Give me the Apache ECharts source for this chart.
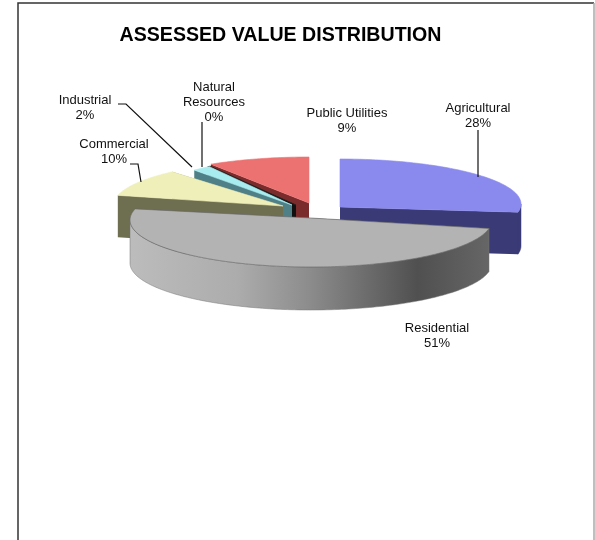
<!DOCTYPE html>
<html>
<head>
<meta charset="utf-8">
<style>html,body{margin:0;padding:0;background:#fff}#c{width:595px;height:540px}</style>
<script src="https://cdn.jsdelivr.net/npm/echarts@6/dist/echarts.min.js"></script>
</head>
<body>
<div id="c"></div>
<script>
// Data, clockwise from 12 o'clock
const categories = ['Agricultural', 'Residential', 'Commercial', 'Industrial', 'Natural Resources', 'Public Utilities'];
const values = [27.9, 50.9, 9.9, 2.0, 0.3, 9.0];
const labelLines = [['Agricultural'], ['Residential'], ['Commercial'], ['Industrial'], ['Natural', 'Resources'], ['Public Utilities']];

// Styles and layout
const topColors = ['#8a8aee', '#b3b3b3', '#efefb9', '#a9ecf0', '#2a2020', '#ec7272'];
const wallColors = ['#3a3a76', '#6f6f6f', '#6e6e50', '#4f8088', '#111111', '#7a2c2c'];
const pieces = [ // exploded position and projected radii of each slice
  {cx: 340, cy: 204, ay: 207, rx: 181, ry: 45, d: 42},
  {cx: 311, cy: 220, ay: 218, rx: 181, ry: 47, d: 43},
  {cx: 283, cy: 206, ay: 206, rx: 170, ry: 45, d: 42},
  {cx: 292, cy: 205, ay: 205, rx: 150, ry: 46, d: 42},
  {cx: 296, cy: 205, ay: 205, rx: 160, ry: 46, d: 42},
  {cx: 309, cy: 203, ay: 203, rx: 183, ry: 46, d: 42}
];
const labelPos = [[478, 108], [437, 328], [114, 144], [85, 100], [214, 87], [347, 113]];
const leaders = [
  [[478, 130], [478, 177]],
  null,
  [[130, 164], [138, 164], [141, 182]],
  [[118, 104], [126, 104], [192, 167]],
  [[202, 122], [202, 167]],
  null
];
const paintOrder = [5, 4, 3, 2, 0, 1];
const LABEL_FONT = '13px "Liberation Sans", Arial, sans-serif';

const total = values.reduce((a, b) => a + b, 0);
const startFrac = [];
values.reduce((acc, v, i) => { startFrac[i] = acc / total; return acc + v; }, 0);

function pt(g, t, dy) {
  return [g.cx + g.rx * Math.sin(t), g.cy - g.ry * Math.cos(t) + (dy || 0)];
}
function arc(g, a0, a1, dy) {
  const n = Math.max(2, Math.ceil(Math.abs(a1 - a0) / 0.02));
  const out = [];
  for (let k = 0; k <= n; k++) out.push(pt(g, a0 + (a1 - a0) * k / n, dy));
  return out;
}

function renderItem(params, api) {
  const i = api.value(0);
  const g = pieces[i];
  const a0 = startFrac[i] * 2 * Math.PI;
  const a1 = a0 + values[i] / total * 2 * Math.PI;
  const apex = [g.cx, g.ay];
  const low = [g.cx, g.ay + g.d];
  const kids = [];
  const wallFill = i === 1
    ? new echarts.graphic.LinearGradient(0, 0, 1, 0, [
        {offset: 0, color: '#bcbcbc'}, {offset: 0.3, color: '#acacac'},
        {offset: 0.5, color: '#8c8c8c'}, {offset: 0.8, color: '#505050'},
        {offset: 1, color: '#666666'}])
    : wallColors[i];

  // Two cut faces
  [a1, a0].forEach(a => {
    kids.push({type: 'polygon', shape: {points: [apex, pt(g, a), pt(g, a, g.d), low]},
      style: {fill: wallColors[i]}});
  });
  // Front-facing part of the outer wall
  const w0 = Math.max(a0, Math.PI / 2), w1 = Math.min(a1, Math.PI * 1.5);
  if (w1 > w0) {
    kids.push({type: 'polygon',
      shape: {points: arc(g, w0, w1, 0).concat(arc(g, w1, w0, g.d))},
      style: {fill: wallFill, stroke: i === 1 ? '#777' : wallColors[i], lineWidth: 0.5}});
  }
  // Top face
  kids.push({type: 'polygon', shape: {points: [apex].concat(arc(g, a0, a1, 0))},
    style: {fill: topColors[i], stroke: i === 1 ? '#666' : topColors[i], lineWidth: 0.6}});
  return {type: 'group', children: kids};
}

function renderLabel(params, api) {
  const i = api.value(0);
  const pct = Math.round(values[i] / total * 100) + '%';
  const lines = labelLines[i].concat([pct]);
  const kids = lines.map((t, k) => ({
    type: 'text',
    style: {text: t, x: labelPos[i][0], y: labelPos[i][1] + k * 15, align: 'center',
      verticalAlign: 'middle', font: LABEL_FONT, fill: '#111'}
  }));
  if (leaders[i]) kids.push({type: 'polyline', shape: {points: leaders[i]},
    style: {stroke: '#111', lineWidth: 1.2, fill: null}});
  return {type: 'group', children: kids};
}

const chart = echarts.init(document.getElementById('c'), null, {renderer: 'canvas'});
chart.setOption({
  animation: false,
  backgroundColor: '#fff',
  title: {
    text: 'ASSESSED VALUE DISTRIBUTION', left: 275.5, top: 21, textAlign: 'center',
    textStyle: {fontFamily: '"Liberation Sans", Arial, sans-serif', fontWeight: 'bold', fontSize: 19.6, color: '#000'}
  },
  graphic: [
    {type: 'polyline', shape: {points: [[18, 540], [18, 3], [594, 3]]}, style: {stroke: '#333', lineWidth: 1.5, fill: null}, z: 10},
    {type: 'line', shape: {x1: 594, y1: 3, x2: 594, y2: 540}, style: {stroke: '#aaa', lineWidth: 1.5}, z: 10}
  ],
  series: [
    {type: 'custom', coordinateSystem: 'none', renderItem, silent: true, clip: false,
      data: paintOrder.map(i => [i]), z: 2},
    {type: 'custom', coordinateSystem: 'none', renderItem: renderLabel, silent: true, clip: false,
      data: categories.map((c, i) => [i]), z: 3}
  ]
});
</script>
</body>
</html>
